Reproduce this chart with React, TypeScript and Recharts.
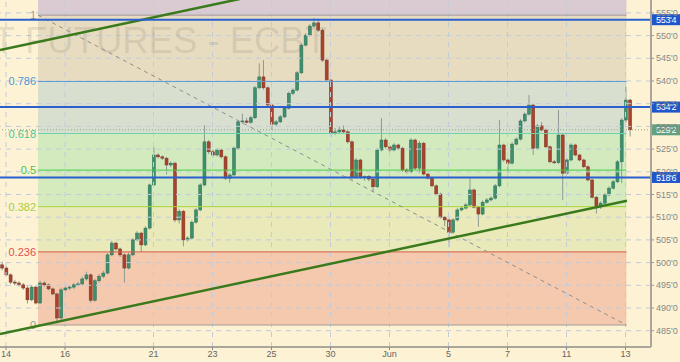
import React from 'react';
import {
  ComposedChart,
  Bar,
  XAxis,
  YAxis,
  ReferenceArea,
  ReferenceLine,
} from 'recharts';

// [open, high, low, close]
const CANDLES: [number, number, number, number][] = [
  [499.5, 500.2, 498.3, 498.8], [498.8, 499.2, 497.0, 497.3], [497.3, 497.6, 495.3, 495.7],
  [495.7, 496.2, 495.0, 495.5], [495.5, 495.9, 494.7, 495.1], [495.1, 495.5, 494.0, 494.4],
  [494.4, 494.8, 491.0, 491.8], [491.8, 495.0, 491.5, 494.6], [494.6, 494.9, 490.8, 491.1],
  [491.1, 496.0, 490.9, 495.5], [495.5, 495.9, 494.7, 495.1], [495.1, 495.4, 493.9, 494.2],
  [494.2, 494.5, 492.8, 493.1], [493.1, 493.4, 486.6, 487.8], [487.8, 494.5, 487.4, 494.0],
  [494.0, 494.8, 493.7, 494.4], [494.4, 494.9, 494.0, 494.6], [494.6, 495.5, 494.2, 495.1],
  [495.1, 495.8, 494.8, 495.3], [495.3, 496.9, 495.0, 496.4], [496.4, 498.0, 496.0, 497.3],
  [497.3, 497.6, 491.2, 491.7], [491.7, 496.4, 491.4, 496.0], [496.0, 497.5, 495.6, 497.0],
  [497.0, 498.2, 496.6, 497.7], [497.7, 502.1, 497.4, 501.7], [501.7, 504.8, 501.4, 504.3],
  [504.3, 504.6, 502.6, 503.0], [503.0, 503.3, 501.2, 501.7], [501.7, 502.0, 495.6, 498.8],
  [498.8, 502.2, 498.5, 501.7], [501.7, 505.4, 501.4, 505.0], [505.0, 506.9, 504.7, 506.5],
  [506.5, 506.8, 502.4, 503.9], [503.9, 508.0, 503.6, 507.6], [507.6, 517.4, 507.3, 517.1],
  [517.1, 525.4, 516.8, 523.7], [523.7, 524.1, 522.9, 523.3], [523.3, 523.6, 522.6, 523.0],
  [523.0, 523.3, 519.4, 521.5], [521.5, 522.3, 521.0, 521.9], [521.9, 522.2, 508.9, 509.4],
  [509.4, 511.8, 508.6, 511.3], [511.3, 511.6, 503.6, 505.0], [505.0, 505.8, 504.6, 505.4],
  [505.4, 509.3, 505.1, 508.9], [508.9, 512.0, 508.6, 511.6], [511.6, 517.5, 511.3, 517.1],
  [517.1, 530.3, 516.8, 526.6], [526.6, 527.0, 523.9, 524.4], [524.4, 524.9, 523.2, 523.7],
  [523.7, 525.2, 523.4, 524.8], [524.8, 525.1, 522.9, 523.3], [523.3, 523.6, 518.2, 518.6],
  [518.6, 519.7, 517.6, 519.3], [519.3, 525.6, 519.0, 525.2], [525.2, 531.4, 524.9, 531.0],
  [531.0, 532.8, 530.6, 531.2], [531.2, 531.9, 530.7, 530.9], [530.9, 532.3, 530.6, 531.9],
  [531.9, 538.9, 531.6, 538.5], [538.5, 543.9, 538.2, 540.9], [540.9, 544.6, 538.1, 538.5],
  [538.5, 538.8, 534.3, 534.7], [534.7, 535.0, 529.2, 530.5], [530.5, 531.4, 530.1, 531.0],
  [531.0, 532.5, 530.7, 532.1], [532.1, 534.4, 531.8, 534.0], [534.0, 537.7, 533.7, 537.3],
  [537.3, 538.4, 536.9, 538.0], [538.0, 542.2, 537.7, 541.8], [541.8, 548.3, 541.5, 547.9],
  [547.9, 550.5, 547.6, 550.1], [550.1, 552.5, 549.8, 552.1], [552.1, 553.9, 551.8, 552.8],
  [552.8, 553.7, 550.8, 551.2], [551.2, 551.5, 544.2, 544.6], [544.6, 545.0, 539.8, 540.2],
  [540.2, 540.5, 527.7, 528.5], [528.5, 529.6, 528.1, 528.8], [528.8, 530.0, 528.4, 529.2],
  [529.2, 530.2, 528.4, 528.8], [528.8, 529.1, 526.2, 526.6], [526.6, 526.9, 518.3, 518.8],
  [518.8, 523.0, 518.5, 522.6], [522.6, 522.9, 518.4, 518.8], [518.8, 519.2, 518.0, 519.0],
  [519.0, 519.3, 517.9, 518.4], [518.4, 518.7, 515.6, 516.7], [516.7, 525.2, 516.4, 524.8],
  [524.8, 531.8, 524.5, 527.0], [527.0, 527.4, 525.1, 525.5], [525.5, 525.8, 524.4, 524.8],
  [524.8, 526.3, 524.5, 525.9], [525.9, 526.2, 524.8, 525.2], [525.2, 525.5, 520.0, 520.4],
  [520.4, 520.8, 519.6, 520.0], [520.0, 527.4, 519.7, 527.0], [527.0, 527.3, 520.4, 520.8],
  [520.8, 526.8, 519.7, 526.3], [526.3, 526.6, 519.2, 519.5], [519.5, 519.8, 518.3, 518.6],
  [518.6, 518.9, 516.6, 516.9], [516.9, 517.2, 514.8, 515.1], [515.1, 515.4, 509.7, 510.0],
  [510.0, 510.3, 508.0, 509.4], [509.4, 509.7, 503.4, 506.7], [506.7, 509.8, 506.4, 509.4],
  [509.4, 512.0, 509.1, 511.6], [511.6, 512.4, 511.3, 512.0], [512.0, 513.1, 511.7, 512.7],
  [512.7, 518.6, 512.4, 516.0], [516.0, 516.3, 511.9, 512.2], [512.2, 512.5, 507.9, 510.7],
  [510.7, 513.7, 510.4, 513.3], [513.3, 514.2, 513.0, 513.8], [513.8, 514.6, 513.5, 514.2],
  [514.2, 517.3, 513.9, 516.9], [516.9, 531.4, 516.6, 525.9], [525.9, 526.2, 522.2, 522.6],
  [522.6, 523.0, 519.7, 521.9], [521.9, 526.5, 521.6, 526.1], [526.1, 527.6, 525.8, 527.2],
  [527.2, 531.6, 526.9, 531.2], [531.2, 533.1, 530.9, 532.7], [532.7, 536.9, 532.4, 534.7],
  [534.7, 535.0, 523.7, 525.2], [525.2, 530.5, 524.9, 530.1], [530.1, 531.0, 528.9, 529.2],
  [529.2, 529.5, 525.2, 525.5], [525.5, 525.8, 521.9, 522.2], [522.2, 522.6, 521.7, 522.0],
  [522.0, 533.6, 521.7, 528.1], [528.1, 528.4, 513.8, 519.7], [519.7, 523.0, 519.4, 522.6],
  [522.6, 526.3, 522.3, 525.9], [525.9, 526.2, 523.4, 523.7], [523.7, 524.0, 522.3, 522.6],
  [522.6, 522.9, 520.8, 521.1], [521.1, 521.4, 517.9, 518.2], [518.2, 518.5, 514.1, 514.4],
  [514.4, 514.7, 510.8, 512.5], [512.5, 513.5, 511.8, 513.1], [513.1, 515.3, 512.8, 514.9],
  [514.9, 516.8, 514.6, 516.4], [516.4, 518.2, 516.1, 517.8], [517.8, 522.6, 517.5, 522.2],
  [522.2, 531.8, 517.5, 531.4], [531.4, 538.7, 530.8, 535.8], [535.8, 536.1, 527.8, 529.25],
];

// time axis: trading days since May 14 (session index)
const CANDLES_PER_DAY = 7;
const FIRST_CANDLE_DAY = -1 / 7;
const X_DOMAIN: [number, number] = [-0.2034, 21.864];
const X_TICK_DAYS = [0, 2, 5, 7, 9, 11, 13, 15, 17, 19, 21];
const X_TICK_LABELS = ['14', '16', '21', '23', '25', '30', 'Jun', '5', '7', '11', '13'];

const Y_DOMAIN: [number, number] = [481.41, 557.84];
const Y_TICKS = [485, 490, 495, 500, 505, 510, 515, 520, 525, 530, 535, 540, 545, 550, 555];

// Fibonacci retracement
const FIB_LOW = 486.25;
const FIB_HIGH = 554.5;
const FIB_START_DAY = 1.085;
const FIB_END_DAY = 21.03;
const FIB_RATIOS = [0, 0.236, 0.382, 0.5, 0.618, 0.786, 1];
const FIB_LABELS = ['0', '0.236', '0.382', '0.5', '0.618', '0.786', '1'];
const FIB_LINE_COLORS = ['#a59c98', '#d65a48', '#a6d63a', '#46d046', '#6ad6aa', '#5b9cd8', '#a0969a'];
const FIB_TEXT_COLORS = ['#9a9a9a', '#e05050', '#a8cc44', '#44c844', '#44c898', '#4a9ad8', '#9a9a9a'];
// fill of the band above each ratio (last = above 100%)
const FIB_BAND_COLORS = ['#f4c9ae', '#e9e9b9', '#d5ebbd', '#d3eabf', '#d8dfcf', '#e8dcc0', '#d9cbd1'];

const KEY_LEVELS = [553.5, 534.25, 518.75];
const KEY_LABELS = ["553'4", "534'2", "518'6"];
const LAST_PRICE = 529.25;
const LAST_LABEL = "529'2";

const TREND_LOWER = [{ day: -0.2034, price: 484.27 }, { day: 21.05, price: 513.63 }];
const TREND_UPPER = [{ day: -0.2034, price: 546.83 }, { day: 9, price: 559.55 }];

const WATERMARK_LEFT = 'WHEAT';
const WATERMARK_RIGHT = 'FUTURES - ECBT';

const FONT = '"Liberation Sans", Arial, sans-serif';
const BG = '#fdf2d4';

const data = CANDLES.map(([o, h, l, c], i) => ({
  t: FIRST_CANDLE_DAY + i / CANDLES_PER_DAY,
  o,
  h,
  l,
  c,
}));

const fibValue = (r: number) => FIB_LOW + r * (FIB_HIGH - FIB_LOW);

const Candle = (props: any) => {
  const { x, y, width, height, payload } = props;
  if (!payload || x == null) return null;
  const { o, h, l, c } = payload;
  const top0 = height >= 0 ? y : y + height;
  const hh = Math.abs(height);
  const ppu = h > l ? hh / (h - l) : 0;
  const cx = x + width / 2;
  const bTop = top0 + (h - Math.max(o, c)) * ppu;
  const bBot = top0 + (h - Math.min(o, c)) * ppu;
  const up = c >= o;
  return (
    <g>
      <line x1={cx} x2={cx} y1={top0} y2={top0 + hh} stroke="#8d9a92" strokeWidth={1} />
      <rect
        x={x}
        y={bTop}
        width={width}
        height={Math.max(1, bBot - bTop)}
        fill={up ? '#3e8f6d' : '#a8432e'}
        stroke={up ? '#2e7056' : '#803222'}
        strokeWidth={0.5}
      />
    </g>
  );
};

const PriceTag = (props: any) => {
  const { viewBox, text, color } = props;
  if (!viewBox) return null;
  const x = viewBox.x + viewBox.width;
  const y = viewBox.y;
  return (
    <g>
      <rect x={x + 1} y={y - 5.5} width={29} height={11} fill={color} />
      <text
        x={x + 5}
        y={y + 3.3}
        fill="#ffffff"
        fontSize={9}
        fontFamily={FONT}
        letterSpacing={-0.3}
      >
        {text}
      </text>
    </g>
  );
};

const FibLabel = (props: any) => {
  const { viewBox, text, color } = props;
  if (!viewBox) return null;
  return (
    <text
      x={viewBox.x - 2}
      y={viewBox.y + 4}
      textAnchor="end"
      fill={color}
      fontSize={11}
      fontFamily={FONT}
    >
      {text}
    </text>
  );
};

const Watermark = () => (
  <g fill="#6e6a66" fillOpacity={0.16} fontFamily={FONT} fontSize={36} pointerEvents="none">
    <text x={15} y={53} textAnchor="end">{WATERMARK_LEFT}</text>
    <text x={25} y={53} textLength={302} lengthAdjust="spacingAndGlyphs">{WATERMARK_RIGHT}</text>
  </g>
);

export default function App() {
  return (
    <div style={{ position: 'absolute', left: 0, top: 0, width: 680, height: 362, background: BG }}>
      <ComposedChart
        width={680}
        height={362}
        data={data}
        margin={{ top: 0, right: 0, bottom: 0, left: 0 }}
        style={{ fontFamily: FONT }}
      >
        <XAxis
          dataKey="t"
          type="number"
          domain={X_DOMAIN}
          allowDataOverflow
          ticks={X_TICK_DAYS}
          tickFormatter={(v: number) => X_TICK_LABELS[X_TICK_DAYS.indexOf(v)] ?? ''}
          height={15}
          tickSize={3}
          tickMargin={1}
          axisLine={{ stroke: '#aaa69a', strokeWidth: 2 }}
          tickLine={{ stroke: '#8a8a8a' }}
          tick={{ fill: '#666', fontSize: 9, fontFamily: FONT }}
          interval={0}
        />
        <YAxis
          orientation="right"
          type="number"
          domain={Y_DOMAIN}
          allowDataOverflow
          ticks={Y_TICKS}
          tickFormatter={(v: number) => `${v}'0`}
          width={29}
          tickSize={3}
          tickMargin={2}
          axisLine={{ stroke: '#aaa69a', strokeWidth: 2 }}
          tickLine={{ stroke: '#999' }}
          tick={{ fill: '#888', fontSize: 9, fontFamily: FONT, textAnchor: 'start' }}
          interval={0}
        />

        {FIB_RATIOS.map((r, i) => (
          <ReferenceArea
            key={`band-${i}`}
            x1={FIB_START_DAY}
            x2={FIB_END_DAY}
            y1={fibValue(r)}
            y2={i < FIB_RATIOS.length - 1 ? fibValue(FIB_RATIOS[i + 1]) : Y_DOMAIN[1]}
            fill={FIB_BAND_COLORS[i]}
            fillOpacity={1}
            stroke="none"
            ifOverflow="hidden"
          />
        ))}

        {Y_TICKS.map((v) => (
          <ReferenceLine key={`gy-${v}`} y={v} stroke="#c3cbd8" strokeDasharray="5 5" strokeWidth={1} />
        ))}
        {X_TICK_DAYS.map((d) => (
          <ReferenceLine key={`gx-${d}`} x={d} stroke="#c3cbd8" strokeDasharray="5 5" strokeWidth={1} />
        ))}

        <ReferenceLine
          y={Y_DOMAIN[1]}
          stroke="none"
          ifOverflow="visible"
          label={<Watermark />}
        />

        {FIB_RATIOS.map((r, i) => (
          <ReferenceLine
            key={`fib-${i}`}
            segment={[
              { x: FIB_START_DAY, y: fibValue(r) },
              { x: FIB_END_DAY, y: fibValue(r) },
            ]}
            stroke={FIB_LINE_COLORS[i]}
            strokeWidth={1}
            label={<FibLabel text={FIB_LABELS[i]} color={FIB_TEXT_COLORS[i]} />}
          />
        ))}

        <ReferenceLine
          segment={[
            { x: FIB_START_DAY, y: FIB_HIGH },
            { x: FIB_END_DAY, y: FIB_LOW },
          ]}
          stroke="#8e8e8e"
          strokeDasharray="4 4"
          strokeWidth={1}
        />

        <ReferenceLine
          y={LAST_PRICE}
          stroke="#7fa890"
          strokeDasharray="1 2"
          strokeWidth={1}
          label={<PriceTag text={LAST_LABEL} color="#62a080" />}
        />

        <Bar
          dataKey={(d: any) => [d.l, d.h]}
          barSize={3}
          shape={<Candle />}
          isAnimationActive={false}
        />

        <ReferenceLine
          segment={[
            { x: TREND_LOWER[0].day, y: TREND_LOWER[0].price },
            { x: TREND_LOWER[1].day, y: TREND_LOWER[1].price },
          ]}
          stroke="#3b7a1c"
          strokeWidth={2.5}
          ifOverflow="hidden"
        />
        <ReferenceLine
          segment={[
            { x: TREND_UPPER[0].day, y: TREND_UPPER[0].price },
            { x: TREND_UPPER[1].day, y: TREND_UPPER[1].price },
          ]}
          stroke="#3b7a1c"
          strokeWidth={2.5}
          ifOverflow="hidden"
        />

        {KEY_LEVELS.map((v, i) => (
          <ReferenceLine
            key={`key-${i}`}
            y={v}
            stroke="#2a5fcf"
            strokeWidth={2}
            label={<PriceTag text={KEY_LABELS[i]} color="#1f56cc" />}
          />
        ))}
      </ComposedChart>
    </div>
  );
}
